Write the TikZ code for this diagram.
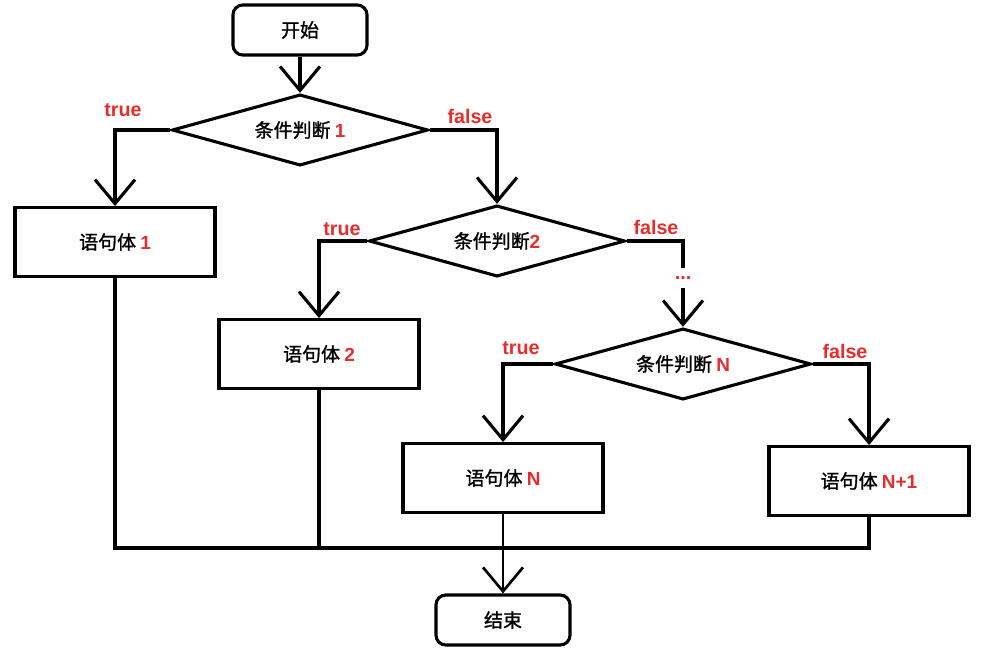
\documentclass[tikz,border=0pt]{standalone}
\usepackage{fontspec}
\setmainfont{Liberation Sans}
\newfontfamily\cjk{Noto Sans CJK SC}[FakeBold=1.3]
\usetikzlibrary{shapes.geometric, arrows.meta}

\definecolor{labelred}{RGB}{232,44,44}
\newcommand{\rednum}[1]{\textcolor{labelred}{\rmfamily\bfseries #1}}

\begin{document}
\begin{tikzpicture}[x=0.025cm, y=-0.025cm,
    every node/.style={font=\cjk\fontsize{13.5pt}{16pt}\selectfont},
    terminal/.style={draw, line width=2.2pt, rounded corners=7pt,
      minimum width=3.35cm, minimum height=1.25cm},
    stmt/.style={draw, line width=2.2pt, minimum width=5cm, minimum height=1.72cm},
    cond/.style={draw, line width=2.2pt, diamond, aspect=3.6, inner sep=0pt,
      minimum width=6.4cm, minimum height=1.78cm},
    tf/.style={text=labelred, font=\rmfamily\bfseries\fontsize{14pt}{16pt}\selectfont},
    flow/.style={line width=2.2pt, -{Straight Barb[length=6mm, width=10mm]}},
    link/.style={line width=2.2pt},
    merge/.style={line width=2.2pt}]

  \useasboundingbox (0,0) rectangle (984,652);

  %%%%%%%%%%%%%%%%%%%%%%%%%%%%%%%%%%%%%%%%%%%%%%%%%
  % Start and first condition
  \node[terminal] (start) at (300,30) {开始};
  \node[cond] (c1) at (300,130) {条件判断 \rednum{1}};
  \node[stmt] (s1) at (115,242) {语句体 \rednum{1}};

  \draw[flow] (start.south) -- (c1.north);
  \draw[flow] (c1.west) -| (s1.north);
  \node[tf] (t1) at (123,110) {true};
  \node[tf] (f1) at (470,116) {false};

  %%%%%%%%%%%%%%%%%%%%%%%%%%%%%%%%%%%%%%%%%%%%%%%%%
  % Second condition
  \node[cond] (c2) at (497,241) {条件判断\rednum{2}};
  \node[stmt] (s2) at (319,354) {语句体 \rednum{2}};

  \draw[flow] (c1.east) -| (c2.north);
  \draw[flow] (c2.west) -| (s2.north);
  \node[tf] (t2) at (342,229) {true};
  \node[tf] (f2) at (656,227) {false};

  % Dots between condition 2 and condition N
  \node[tf, inner sep=6pt] (dots) at (683,278) {...};
  \draw[link] (c2.east) -| (dots.north);

  %%%%%%%%%%%%%%%%%%%%%%%%%%%%%%%%%%%%%%%%%%%%%%%%%
  % Condition N
  \node[cond] (cN) at (683,364) {条件判断 \rednum{N}};
  \node[stmt] (sN) at (503,478) {语句体 \rednum{N}};
  \node[stmt] (sN1) at (869,481) {语句体 \rednum{N+1}};

  \draw[flow] (dots.south) -- (cN.north);
  \draw[flow] (cN.west) -| (sN.north);
  \draw[flow] (cN.east) -| (sN1.north);
  \node[tf] (tN) at (521,348) {true};
  \node[tf] (fN) at (845,351) {false};

  %%%%%%%%%%%%%%%%%%%%%%%%%%%%%%%%%%%%%%%%%%%%%%%%%
  % Merge and end
  \node[terminal] (end) at (503,620) {结束};
  \coordinate (join) at (503,548);

  \draw[merge] (s1.south) |- (join);
  \draw[merge] (s2.south) -- (s2.south |- join);
  \draw[merge] (sN1.south) |- (join);
  \draw[flow, line width=1.9pt] (sN.south) -- (end.north);

\end{tikzpicture}
\end{document}
